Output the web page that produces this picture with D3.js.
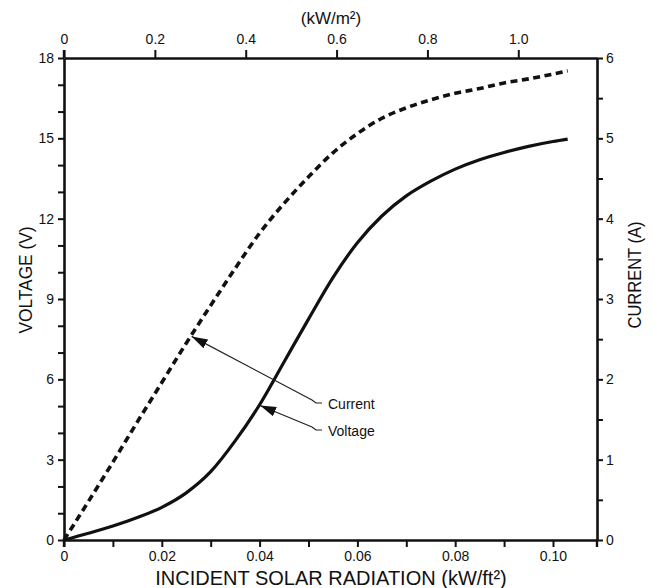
<!DOCTYPE html>
<html>
<head>
<meta charset="utf-8">
<script src="https://cdn.jsdelivr.net/npm/d3@7"></script>
<style>
  html, body { margin: 0; padding: 0; background: #fff; }
  svg { display: block; font-family: "Liberation Sans", Arial, sans-serif; }
  .axis path, .axis line { stroke: #111; }
  .axis text { fill: #111; font-size: 14px; font-family: "Liberation Sans", Arial, sans-serif; }
</style>
</head>
<body>
<svg id="chart" width="655" height="588"></svg>
<script>
// ---- Data ----
const radiation = [0, 0.005, 0.01, 0.015, 0.02, 0.025, 0.03, 0.035, 0.04, 0.045, 0.05, 0.055, 0.06, 0.065, 0.07, 0.075, 0.08, 0.085, 0.09, 0.095, 0.10, 0.103];
const voltage   = [0, 0.25, 0.52, 0.84, 1.22, 1.76, 2.55, 3.7, 5.05, 6.65, 8.25, 9.8, 11.1, 12.1, 12.85, 13.4, 13.85, 14.2, 14.47, 14.7, 14.88, 14.97];
const current   = [0, 0.48, 0.97, 1.47, 1.96, 2.45, 2.92, 3.38, 3.82, 4.19, 4.52, 4.82, 5.06, 5.25, 5.38, 5.48, 5.56, 5.62, 5.69, 5.74, 5.8, 5.84];

const bottomTicks = [0, 0.01, 0.02, 0.03, 0.04, 0.05, 0.06, 0.07, 0.08, 0.09, 0.10];
const topTicks = [0, 0.2, 0.4, 0.6, 0.8, 1.0];
const leftTicks = d3.range(0, 19, 1);
const rightTicks = d3.range(0, 6.01, 0.5);

const annotations = [
  { label: "Current", series: "current", x: 0.0259 },
  { label: "Voltage", series: "voltage", x: 0.0399 }
];

// ---- Layout ----
const L = 64, R = 597, T = 58, B = 540;
const xMax = 0.109;
const M2_PER_FT2 = 10.7639;

const svg = d3.select("#chart");

const x = d3.scaleLinear().domain([0, xMax]).range([L, R]);
const xTop = d3.scaleLinear().domain([0, xMax * M2_PER_FT2]).range([L, R]);
const yV = d3.scaleLinear().domain([0, 18]).range([B, T]);
const yI = d3.scaleLinear().domain([0, 6]).range([B, T]);

function styleAxis(g) {
  g.select(".domain").attr("stroke-width", 2.6);
  g.selectAll(".tick line").attr("stroke-width", 2);
}

// Bottom axis
svg.append("g").attr("class", "axis").attr("transform", `translate(0,${B})`)
  .call(d3.axisBottom(x).tickValues(bottomTicks).tickSize(7).tickPadding(4).tickSizeOuter(0)
    .tickFormat(d => {
      const k = Math.round(d * 100);
      if (k === 0) return "0";
      return k % 2 === 0 ? d3.format(".2f")(d) : "";
    }))
  .call(styleAxis);

// Top axis
svg.append("g").attr("class", "axis").attr("transform", `translate(0,${T})`)
  .call(d3.axisTop(xTop).tickValues(topTicks).tickSize(8).tickPadding(6).tickSizeOuter(0)
    .tickFormat(d => d === 0 ? "0" : d3.format(".1f")(d)))
  .call(styleAxis);

// Left axis
svg.append("g").attr("class", "axis").attr("transform", `translate(${L},0)`)
  .call(d3.axisLeft(yV).tickValues(leftTicks).tickSize(6).tickPadding(4).tickSizeOuter(0)
    .tickFormat(d => d % 3 === 0 ? d : ""))
  .call(styleAxis);

// Right axis
svg.append("g").attr("class", "axis").attr("transform", `translate(${R},0)`)
  .call(d3.axisRight(yI).tickValues(rightTicks).tickSize(6).tickPadding(3).tickSizeOuter(0)
    .tickFormat(d => Number.isInteger(d) ? d : ""))
  .call(styleAxis);

// Corner extensions (axes extend slightly past the frame)
svg.append("line").attr("x1", L).attr("x2", L).attr("y1", B).attr("y2", B + 7).attr("stroke", "#111").attr("stroke-width", 2.4);
svg.append("line").attr("x1", R).attr("x2", R).attr("y1", B).attr("y2", B + 7).attr("stroke", "#111").attr("stroke-width", 2.4);
svg.append("line").attr("x1", L).attr("x2", L).attr("y1", T - 8).attr("y2", T).attr("stroke", "#111").attr("stroke-width", 2.4);

// Lines
const vData = radiation.map((r, i) => [r, voltage[i]]);
const iData = radiation.map((r, i) => [r, current[i]]);

svg.append("path").datum(vData)
  .attr("fill", "none").attr("stroke", "#111").attr("stroke-width", 3.2)
  .attr("d", d3.line().x(d => x(d[0])).y(d => yV(d[1])).curve(d3.curveMonotoneX));

svg.append("path").datum(iData)
  .attr("fill", "none").attr("stroke", "#111").attr("stroke-width", 3.6)
  .attr("stroke-dasharray", "7,4.5")
  .attr("d", d3.line().x(d => x(d[0])).y(d => yI(d[1])).curve(d3.curveMonotoneX));

// Annotations
const defs = svg.append("defs");
defs.append("marker").attr("id", "arrow")
  .attr("viewBox", "0 0 16 10").attr("refX", 16).attr("refY", 5)
  .attr("markerWidth", 16).attr("markerHeight", 10).attr("markerUnits", "userSpaceOnUse")
  .attr("orient", "auto")
  .append("path").attr("d", "M0,0 L16,5 L0,10 Z").attr("fill", "#111");

const interpV = d3.scaleLinear().domain(radiation).range(voltage);
const interpI = d3.scaleLinear().domain(radiation).range(current);

const textX = 328;
const textYs = [404, 431];
annotations.forEach((a, k) => {
  const tx = x(a.x);
  const ty = a.series === "current" ? yI(interpI(a.x)) : yV(interpV(a.x));
  const ly = textYs[k];
  const p = d3.path();
  p.moveTo(textX - 6, ly - 1);
  p.lineTo(textX - 12, ly - 1);
  p.lineTo(textX - 16, ly - 4);
  p.lineTo(tx + 1, ty);
  svg.append("path").attr("d", p.toString())
    .attr("fill", "none").attr("stroke", "#222").attr("stroke-width", 1.2)
    .attr("marker-end", "url(#arrow)");
  svg.append("text").attr("x", textX).attr("y", ly + 5)
    .attr("font-size", 14).attr("fill", "#111").text(a.label);
});

// Axis titles
svg.append("text").attr("x", 331).attr("y", 24).attr("text-anchor", "middle")
  .attr("font-size", 17).attr("fill", "#111").text("(kW/m²)");

svg.append("text").attr("x", 331).attr("y", 585).attr("text-anchor", "middle")
  .attr("font-size", 20).attr("fill", "#111").text("INCIDENT SOLAR RADIATION (kW/ft²)");

svg.append("text").attr("transform", "translate(32,280) rotate(-90)").attr("text-anchor", "middle")
  .attr("font-size", 18).attr("textLength", 107).attr("lengthAdjust", "spacingAndGlyphs")
  .attr("fill", "#111").text("VOLTAGE (V)");

svg.append("text").attr("transform", "translate(641,275) rotate(-90)").attr("text-anchor", "middle")
  .attr("font-size", 18).attr("textLength", 107).attr("lengthAdjust", "spacingAndGlyphs")
  .attr("fill", "#111").text("CURRENT (A)");
</script>
</body>
</html>
